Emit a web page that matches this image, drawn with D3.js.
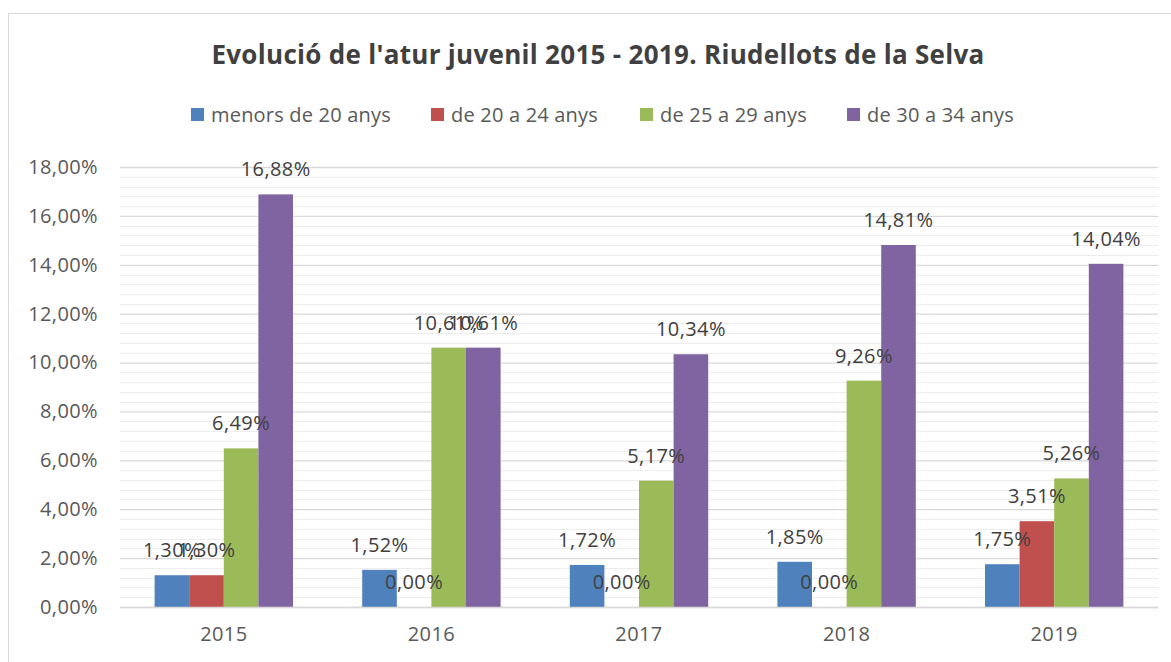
<!DOCTYPE html>
<html>
<head>
<meta charset="utf-8">
<script src="https://cdn.jsdelivr.net/npm/d3@7"></script>
<style>
  body { margin: 0; background: #fff; }
  svg { display: block; font-family: "Open Sans", sans-serif; }
</style>
</head>
<body>
<div id="chart"></div>
<script>
const years = ["2015", "2016", "2017", "2018", "2019"];
const seriesNames = ["menors de 20 anys", "de 20 a 24 anys", "de 25 a 29 anys", "de 30 a 34 anys"];
const menors20 = [1.30, 1.52, 1.72, 1.85, 1.75];
const de20a24 = [1.30, 0.00, 0.00, 0.00, 3.51];
const de25a29 = [6.49, 10.61, 5.17, 9.26, 5.26];
const de30a34 = [16.88, 10.61, 10.34, 14.81, 14.04];
const yTicks = [0, 2, 4, 6, 8, 10, 12, 14, 16, 18];
const colors = ["#4F81BD", "#C0504D", "#9BBB59", "#8064A2"];

const W = 1171, H = 662;
const plot = { left: 120, right: 1158, top: 167, bottom: 607 };

const locale = d3.formatLocale({ decimal: ",", thousands: ".", grouping: [3], currency: ["", "€"] });
const pct = v => locale.format(".2f")(v) + "%";

const allSeries = [menors20, de20a24, de25a29, de30a34];
const data = years.map((yr, i) => ({
    year: yr,
    values: seriesNames.map((s, k) => ({ key: s, idx: k, v: allSeries[k][i] }))
}));

const svg = d3.select("#chart").append("svg")
    .attr("width", W)
    .attr("height", H);

// chart frame
svg.append("rect")
    .attr("x", 8.5).attr("y", 13.5)
    .attr("width", W + 20).attr("height", H + 20)
    .attr("fill", "#fff")
    .attr("stroke", "#D9D9D9");

// scales
const x0 = d3.scaleBand().domain(years).range([plot.left, plot.right]).padding(0);
const x1 = d3.scaleBand().domain(seriesNames).range([0, x0.bandwidth()])
    .paddingInner(0).paddingOuter(1);
const y = d3.scaleLinear().domain([0, 18]).range([plot.bottom, plot.top]);

// minor gridlines
const minor = d3.range(0, 18.01, 0.4).filter(v => Math.abs(v / 2 - Math.round(v / 2)) > 0.01);
svg.append("g").selectAll("line").data(minor).enter().append("line")
    .attr("x1", plot.left).attr("x2", plot.right)
    .attr("y1", d => Math.round(y(d)) + 0.5).attr("y2", d => Math.round(y(d)) + 0.5)
    .attr("stroke", "#EDEDED").attr("stroke-width", 1);

// y axis with major gridlines
const yAxis = svg.append("g")
    .attr("transform", `translate(${plot.left},0)`)
    .call(d3.axisLeft(y).tickValues(yTicks).tickFormat(pct)
        .tickSize(-(plot.right - plot.left)).tickPadding(22));
yAxis.select(".domain").remove();
yAxis.selectAll(".tick line").attr("stroke", "#D9D9D9").attr("stroke-width", 1.3);
yAxis.selectAll(".tick text")
    .attr("fill", "#595959")
    .style("font-size", "20px")
    .style("letter-spacing", "0.4px")
    .style("font-family", "'Open Sans', sans-serif");

// bars
const groups = svg.append("g").selectAll("g").data(data).enter().append("g")
    .attr("transform", d => `translate(${x0(d.year)},0)`);

groups.selectAll("rect").data(d => d.values).enter().append("rect")
    .attr("x", d => x1(d.key))
    .attr("y", d => y(d.v))
    .attr("width", x1.bandwidth())
    .attr("height", d => y(0) - y(d.v))
    .attr("fill", d => colors[d.idx]);

// value labels
groups.selectAll("text").data(d => d.values).enter().append("text")
    .attr("x", d => x1(d.key) + x1.bandwidth() / 2)
    .attr("y", d => y(d.v) - 18)
    .attr("text-anchor", "middle")
    .attr("fill", "#404040")
    .style("font-size", "20px")
    .style("letter-spacing", "0.4px")
    .text(d => pct(d.v));

// x axis
const xAxis = svg.append("g")
    .attr("transform", `translate(0,${plot.bottom})`)
    .call(d3.axisBottom(x0).tickSize(0).tickPadding(20));
xAxis.select(".domain").attr("stroke", "#D9D9D9").attr("stroke-width", 1.3);
xAxis.selectAll(".tick text")
    .attr("fill", "#595959")
    .style("font-size", "20px")
    .style("letter-spacing", "0.4px")
    .style("font-family", "'Open Sans', sans-serif");

// title
svg.append("text")
    .attr("x", 598).attr("y", 64)
    .attr("text-anchor", "middle")
    .attr("fill", "#404040")
    .style("font-size", "26px")
    .style("letter-spacing", "0.3px")
    .style("font-weight", "bold")
    .text("Evolució de l'atur juvenil 2015 - 2019. Riudellots de la Selva");

// legend
const legendX = [191, 431, 640, 847];
const legend = svg.append("g").selectAll("g").data(seriesNames).enter().append("g")
    .attr("transform", (d, i) => `translate(${legendX[i]},108)`);
legend.append("rect")
    .attr("width", 13).attr("height", 13)
    .attr("fill", (d, i) => colors[i]);
legend.append("text")
    .attr("x", 20).attr("y", 14)
    .attr("fill", "#595959")
    .style("font-size", "20px")
    .style("letter-spacing", "0.2px")
    .text(d => d);
</script>
</body>
</html>
